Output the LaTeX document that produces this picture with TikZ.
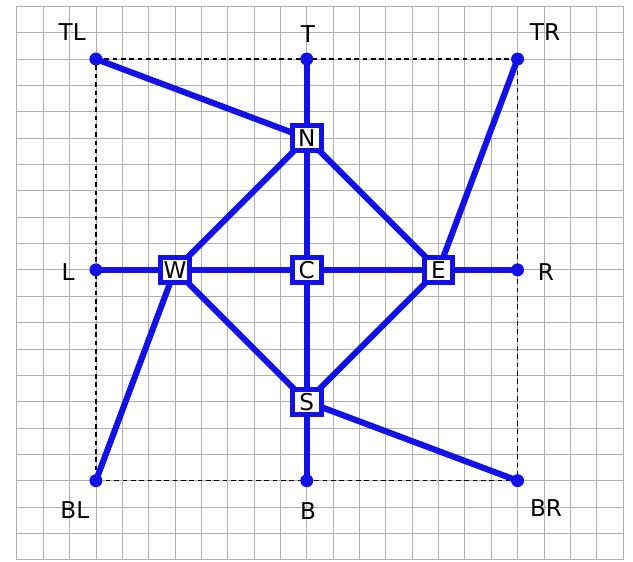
\documentclass[tikz,border=0pt]{standalone}
\usepackage{fontspec}
\setmainfont{DejaVu Sans}
\usetikzlibrary{backgrounds}
\definecolor{eblue}{RGB}{18,18,232}
\definecolor{gridgray}{RGB}{175,175,175}
\tikzset{
  gridline/.style={draw=gridgray, line width=0.45pt},
  frame/.style={draw=black, line width=0.8pt, dash pattern=on 2.5pt off 2pt},
  edge/.style={draw=eblue, line width=3.3pt},
  dot/.style={circle, fill=eblue, inner sep=0pt, minimum size=7pt},
  box/.style={draw=eblue, fill=white, line width=2.8pt, inner sep=1pt,
    minimum width=15.5pt, minimum height=13.5pt, font=\fontsize{12.5}{14}\selectfont},
  lab/.style={font=\fontsize{12.5}{14}\selectfont, inner sep=1pt}
}
\begin{document}
\begin{tikzpicture}[x=0.5cm,y=0.5cm]
\useasboundingbox (-3.64,-19.05) rectangle (20.38,2.24);
% dots
\node[dot] (TL) at (0,0) {};
\node[dot] (T) at (8,0) {};
\node[dot] (TR) at (16,0) {};
\node[dot] (L) at (0,-8) {};
\node[dot] (R) at (16,-8) {};
\node[dot] (BL) at (0,-16) {};
\node[dot] (B) at (8,-16) {};
\node[dot] (BR) at (16,-16) {};
% boxes
\node[box] (N) at (8,-3) {N};
\node[box] (C) at (8,-8) {C};
\node[box] (S) at (8,-13) {S};
\node[box] (W) at (3,-8) {W};
\node[box] (E) at (13,-8) {E};
% labels
\node[lab] (lTL) at (-0.9,1.02) {TL};
\node[lab] (lT) at (8.05,0.95) {T};
\node[lab] (lTR) at (17.04,1.02) {TR};
\node[lab] (lL) at (-1.06,-8.08) {L};
\node[lab] (lR) at (17.08,-8.08) {R};
\node[lab] (lBL) at (-0.8,-17.1) {BL};
\node[lab] (lB) at (8.05,-17.15) {B};
\node[lab] (lBR) at (17.08,-17.04) {BR};
\begin{scope}[on background layer]
  \draw[gridline, step=0.5cm] (-3,-19) grid (20,2);
  \draw[frame] (TL.center) -- (TR.center) -- (BR.center) -- (BL.center) -- cycle;
  \draw[edge] (TL.center) -- (N.center);
  \draw[edge] (T.center) -- (N.center) -- (C.center) -- (S.center) -- (B.center);
  \draw[edge] (TR.center) -- (E.center);
  \draw[edge] (L.center) -- (W.center) -- (C.center) -- (E.center) -- (R.center);
  \draw[edge] (BL.center) -- (W.center);
  \draw[edge] (BR.center) -- (S.center);
  \draw[edge] (N.center) -- (W.center) -- (S.center) -- (E.center) -- (N.center);
\end{scope}
\end{tikzpicture}
\end{document}
